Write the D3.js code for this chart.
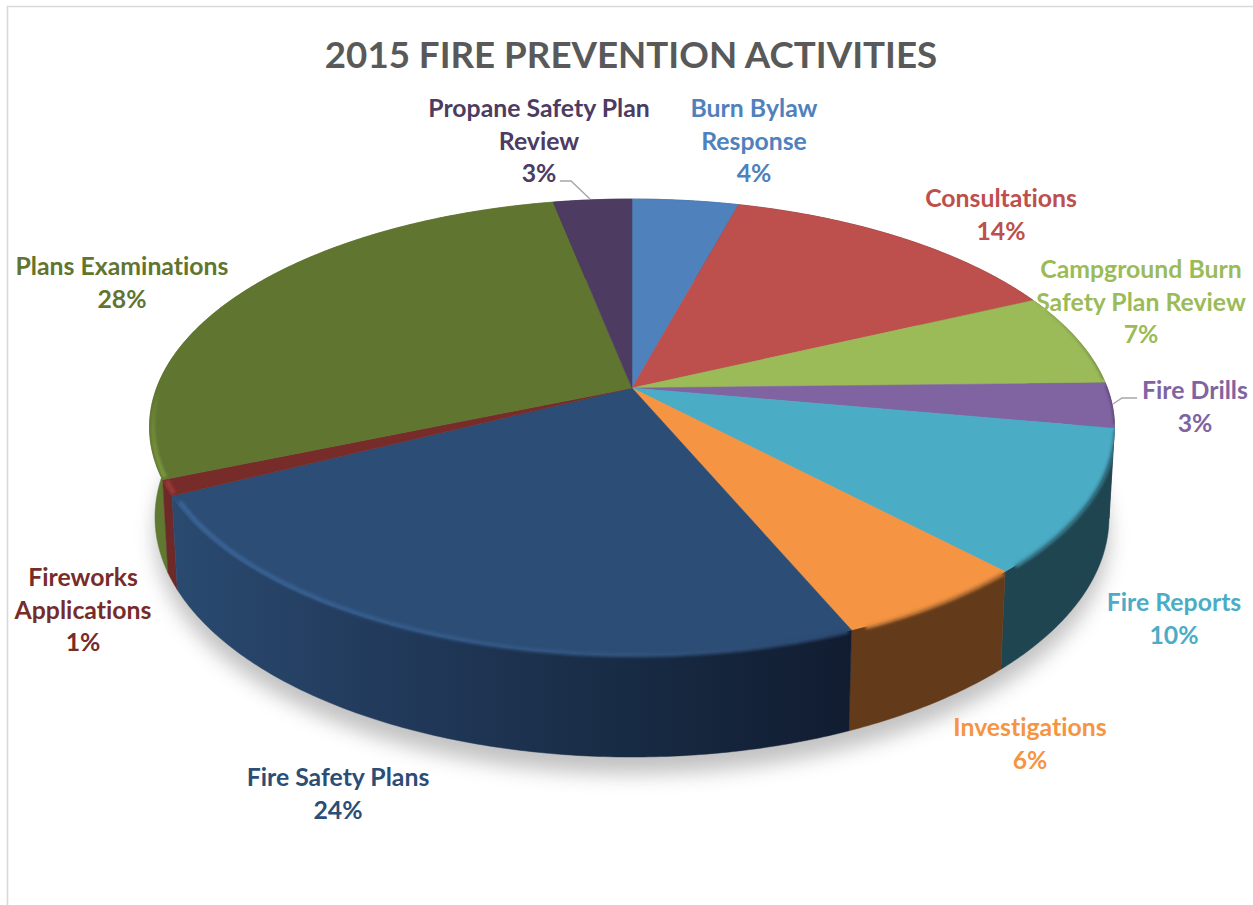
<!DOCTYPE html>
<meta charset="utf-8">

<head>
  <script src="https://d3js.org/d3.v7.min.js"></script>
  <style>
    html,
    body {
      margin: 0;
      background: #fff;
    }

    text {
      font-family: Lato, "Open Sans", sans-serif;
      font-weight: 700;
      text-anchor: middle;
      font-variant-ligatures: none;
    }
  </style>
</head>

<body>
  <svg id="chart" width="1253" height="905"></svg>
</body>
<script>
  const title = "2015 FIRE PREVENTION ACTIVITIES"

  const categories = ["Burn Bylaw Response", "Consultations", "Campground Burn Safety Plan Review", "Fire Drills",
    "Fire Reports", "Investigations", "Fire Safety Plans", "Fireworks Applications", "Plans Examinations",
    "Propane Safety Plan Review"]
  // share of activities, estimated off the slice boundaries
  const values = [4.2, 13.8, 6.6, 3.2, 10.1, 5.7, 23.9, 1.1, 28.2, 3.1]

  const labelLines = [["Burn Bylaw", "Response"], ["Consultations"], ["Campground Burn", "Safety Plan Review"],
    ["Fire Drills"], ["Fire Reports"], ["Investigations"], ["Fire Safety Plans"], ["Fireworks", "Applications"],
    ["Plans Examinations"], ["Propane Safety Plan", "Review"]]

  const topColors = ["#4f81bd", "#bd4f4c", "#9bbb59", "#8064a2", "#4bacc6", "#f59543", "#2c4d75", "#772c2a", "#5f7530", "#4d3b62"]
  const sideColors = ["#2f4d71", "#71302e", "#5d7035", "#3e3150", "#1f4550", "#633b1b", "#24405f", "#6e2a28", "#5f7a30", "#2e233a"]

  // label centre x and first baseline
  const labelAnchors = [[754, 117], [1001, 207], [1141, 278], [1195, 399], [1174, 611], [1030, 736], [338, 786],
    [83, 586], [122, 275], [539, 117]]

  const width = 1253, height = 905
  const svg = d3.select("#chart")
  const defs = svg.append("defs")

  // pie seen in perspective: top face and the smaller, lower bottom face
  const persp = 0.171
  const topFace = { cx: 632, cy: 388, rx: 475.4, ry: 221.3 }
  const bottomFace = { cx: 632, cy: 476.2, rx: 470, ry: 232.8 }

  function project(face, angle, r = 1) {
    const px = r * Math.sin(angle), py = -r * Math.cos(angle)
    const w = 1 - persp * py
    return [
      d3.scaleLinear([-1, 1], [face.cx - face.rx, face.cx + face.rx])(px / w),
      d3.scaleLinear([-1, 1], [face.cy - face.ry, face.cy + face.ry])(py / w)
    ]
  }

  function arcAngles(a0, a1) {
    const n = Math.max(2, Math.ceil((a1 - a0) / 0.01))
    return d3.range(n + 1).map(i => a0 + (a1 - a0) * i / n)
  }

  const line = d3.line()
  const pie = d3.pie().sort(null).startAngle(0).endAngle(2 * Math.PI)
  const slices = pie(values).map((d, i) => ({ ...d, i, mid: (d.startAngle + d.endAngle) / 2 }))

  function blur(id, dev) {
    defs.append("filter").attr("id", id)
      .attr("x", "-10%").attr("y", "-10%").attr("width", "120%").attr("height", "125%")
      .append("feGaussianBlur").attr("stdDeviation", dev)
  }
  blur("shadow", 10)
  blur("rim", 1.8)

  // the bevel blur must stay inside the pie outline
  const pieClip = defs.append("clipPath").attr("id", "pieClip")

  // chart frame, only top and left show in the reference
  svg.append("path")
    .attr("d", line([[7.5, height], [7.5, 6.5], [width, 6.5]]))
    .attr("fill", "none").attr("stroke", "#d9d9d9").attr("stroke-width", 1.6)

  svg.append("text")
    .attr("x", 631).attr("y", 68)
    .attr("font-size", 36.7).attr("fill", "#595959")
    .text(title)

  // soft floor shadow
  svg.append("path")
    .attr("d", line(arcAngles(0, 2 * Math.PI).map(a => project(bottomFace, a))) + "Z")
    .attr("transform", "translate(0,17)")
    .attr("fill", "#9a9a9a").attr("opacity", 0.6)
    .attr("filter", "url(#shadow)")

  // side walls, back to front
  const walls = svg.append("g")
  slices.slice().sort((a, b) => Math.sin(a.mid - Math.PI / 2) - Math.sin(b.mid - Math.PI / 2)).forEach(d => {
    const angles = arcAngles(d.startAngle, d.endAngle)
    const pts = angles.map(a => project(topFace, a)).concat(angles.slice().reverse().map(a => project(bottomFace, a)))
    const base = sideColors[d.i]
    const gradId = "wall" + d.i
    const xs = d3.extent(pts, p => p[0])
    const grad = defs.append("linearGradient").attr("id", gradId)
      .attr("gradientUnits", "userSpaceOnUse")
      .attr("x1", xs[0]).attr("x2", xs[1]).attr("y1", 0).attr("y2", 0)
    const stops = categories[d.i] === "Fire Safety Plans"
      ? ["#2a4a70", "#21395a", "#182b44", "#111c30"]
      : [base, base]
    stops.forEach((c, j) => grad.append("stop").attr("offset", j / (stops.length - 1)).attr("stop-color", c))
    walls.append("path").attr("d", line(pts) + "Z")
      .attr("fill", "url(#" + gradId + ")").attr("stroke", "url(#" + gradId + ")").attr("stroke-width", 0.5)
    pieClip.append("path").attr("d", line(pts) + "Z")
  })

  // top faces
  const faces = svg.append("g")
  slices.forEach(d => {
    const pts = [[topFace.cx, topFace.cy]].concat(arcAngles(d.startAngle, d.endAngle).map(a => project(topFace, a)))
    faces.append("path").attr("d", line(pts) + "Z")
      .attr("fill", topColors[d.i]).attr("stroke", topColors[d.i]).attr("stroke-width", 0.5)
    pieClip.append("path").attr("d", line(pts) + "Z")
  })

  // bevel: light on the lower left, going dark towards the right
  const rim = svg.append("g").attr("clip-path", "url(#pieClip)")
    .append("g").attr("filter", "url(#rim)").attr("fill", "none").attr("stroke-width", 4)
  const rimLight = d3.scaleLinear([-1, 0.1, 1], [0, 0.45, 1]).clamp(true)
  const rimRadius = d3.scaleLinear([-1, 0.2], [0.993, 1.002]).clamp(true)
  const fadeLeft = d3.scaleLinear([0, 0.4], [0, 1]).clamp(true)
  const fadeRight = d3.scaleLinear([-0.5, 0], [0, 1]).clamp(true)
  slices.forEach(d => {
    const base = d3.color(topColors[d.i])
    const ramp = d3.interpolateRgb(base.brighter(0.9), base.darker(1.1))
    const angles = arcAngles(d.startAngle + 0.008, d.endAngle - 0.008).filter((a, j) => j % 3 === 0)
    d3.pairs(angles).forEach(([a, b]) => {
      const s = Math.sin(a), c = -Math.cos(a)
      rim.append("path")
        .attr("d", line([project(topFace, a, rimRadius(s)), project(topFace, b, rimRadius(s))]))
        .attr("stroke", ramp(rimLight(s)))
        .attr("stroke-opacity", s < 0 ? fadeLeft(c) : fadeRight(c))
    })
  })

  // leader lines for the two small slices
  const leaderLines = [[[560, 181], [571, 181], [590, 199]], [[1137, 398], [1122, 398], [1113, 404]]]
  svg.append("g").selectAll("path").data(leaderLines).join("path")
    .attr("d", line).attr("fill", "none").attr("stroke", "#a6a6a6").attr("stroke-width", 1.4)

  // data labels
  const lineHeight = 32.6
  const labels = svg.append("g").attr("font-size", 24.8)
  slices.forEach(d => {
    const [x, y] = labelAnchors[d.i]
    const rows = labelLines[d.i].concat(Math.round(d.value) + "%")
    labels.selectAll(null).data(rows).join("text")
      .attr("x", x)
      .attr("y", (r, j) => y + j * lineHeight)
      .attr("fill", topColors[d.i])
      .text(r => r)
  })
</script>
